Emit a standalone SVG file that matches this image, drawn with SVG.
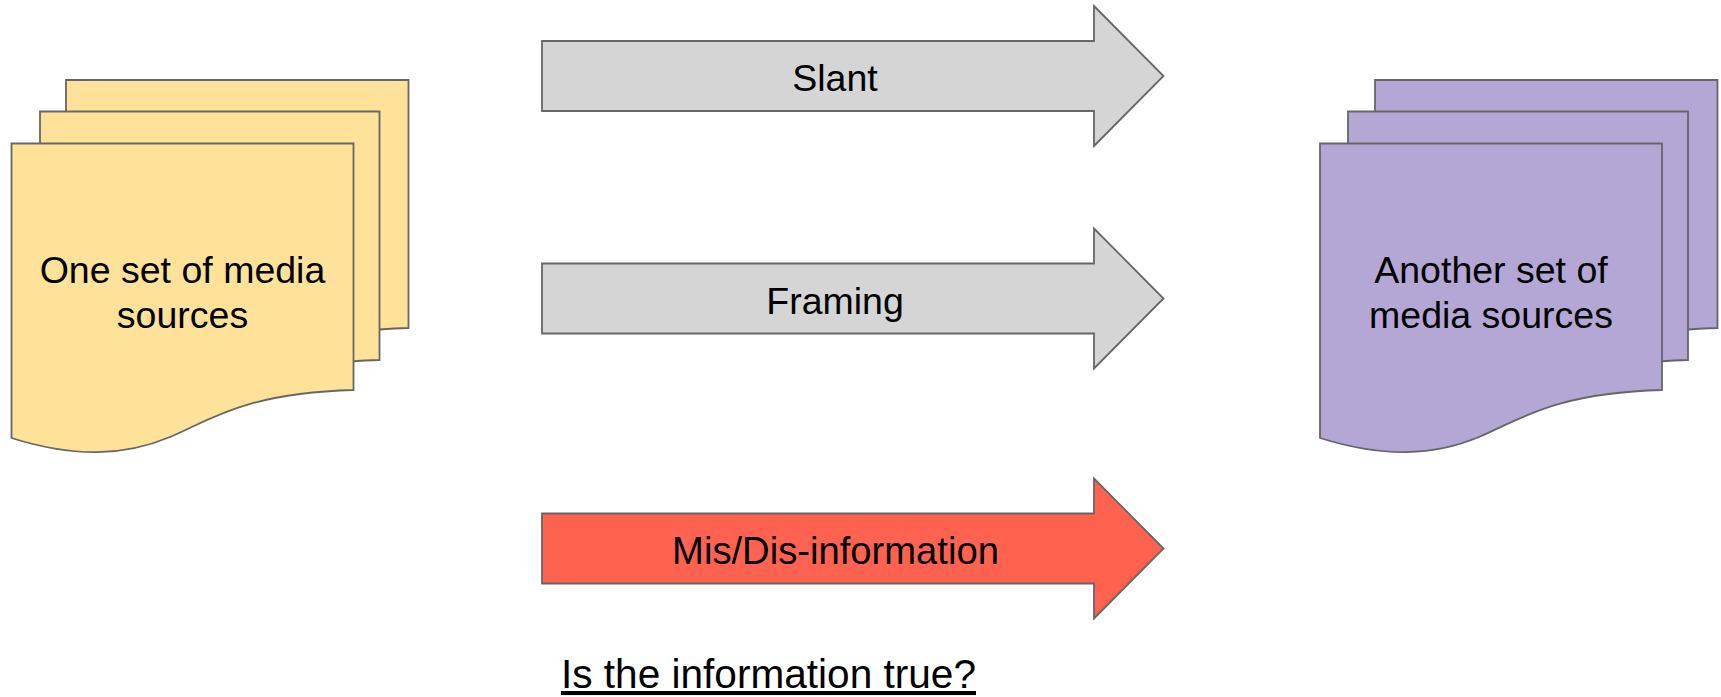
<svg xmlns="http://www.w3.org/2000/svg" width="1721" height="697" viewBox="0 0 1721 697">
<defs>
<style>
.s{stroke:#666;stroke-width:1.8;stroke-linejoin:miter}
.y{fill:#FFE299}.p{fill:#B4A7D6}.g{fill:#D5D5D5}.r{fill:#FF634F}
text{font-family:"Liberation Sans",Arial,sans-serif;font-size:37.5px;fill:#000;text-anchor:middle}
</style>
<path id="ar" class="s" d="M542 -35H1094V-70L1163.5 0L1094 70V35H542Z"/>
</defs>
<rect width="1721" height="697" fill="#fff"/>
<g id="source-set">
<path class="s y" d="M66 80H408.500V328C300 331 265 358 225 375C180 394 130 396 66 376Z"/>
<path class="s y" d="M40 111.500H379.500V360C271 363 236 390 197 407C152 426 102 428 40 408Z"/>
<path class="s y" d="M11.500 143.500H353.500V390C245 393 210 420 170 437C125 456 75 458 11.500 438Z"/>
<text x="182.500" y="283">One set of media</text>
<text x="182.500" y="328">sources</text>
</g>
<g id="target-set">
<path class="s p" d="M1375 80H1717.500V328C1609 331 1574 358 1534 375C1489 394 1439 396 1375 376Z"/>
<path class="s p" d="M1348 111.500H1688V360C1580 363 1545 390 1505 407C1460 426 1410 428 1348 408Z"/>
<path class="s p" d="M1320 143.500H1662V390C1554 393 1519 420 1479 437C1434 456 1384 458 1320 438Z"/>
<text x="1491" y="283">Another set of</text>
<text x="1491" y="328">media sources</text>
</g>
<g id="connectors">
<g id="slant"><use href="#ar" class="g" transform="translate(0 76)"/><text x="835" y="91">Slant</text></g>
<g id="framing"><use href="#ar" class="g" transform="translate(0 298.500)"/><text x="835" y="313.500">Framing</text></g>
<g id="misinformation"><use href="#ar" class="r" transform="translate(0 548.500)"/><text x="835.500" y="564" style="font-size:38.200px">Mis/Dis-information</text></g>
</g>
<g id="question"><text x="768.500" y="688" style="font-size:40.600px" text-decoration="underline">Is the information true?</text></g>
</svg>
